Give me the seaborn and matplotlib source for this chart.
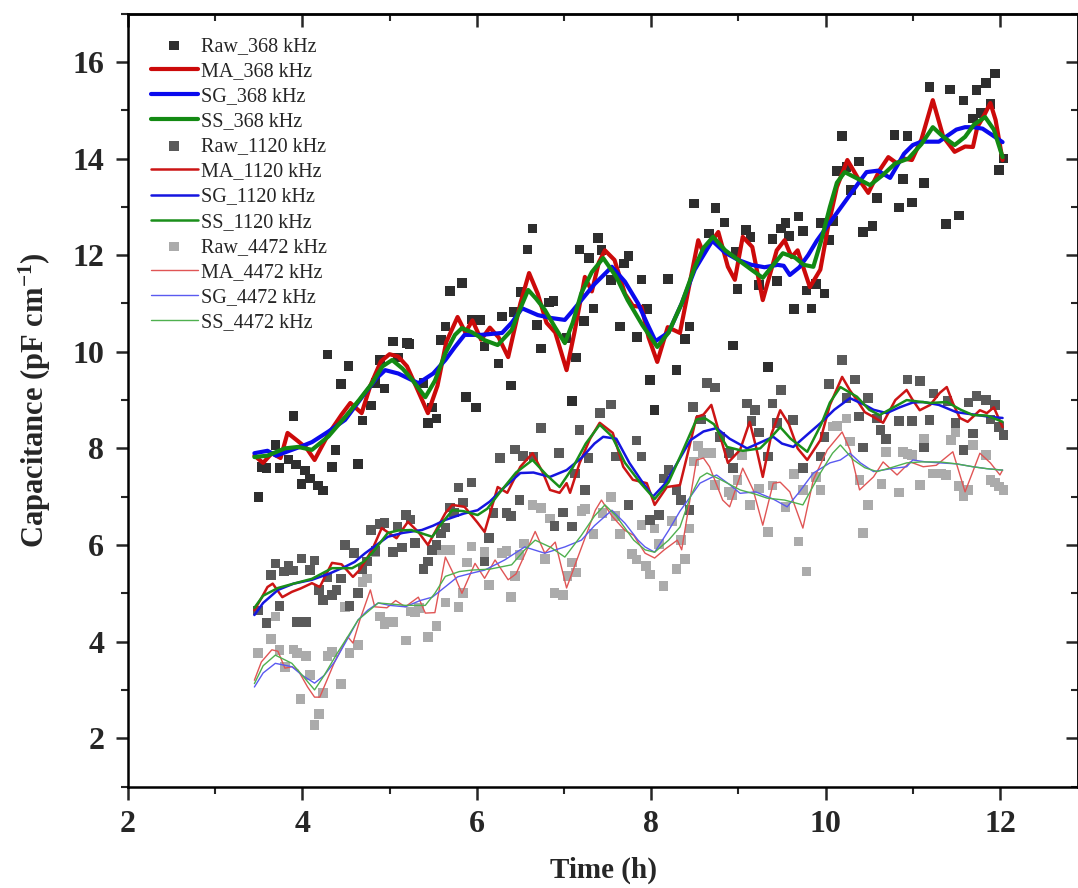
import numpy as np
import pandas as pd
import matplotlib
matplotlib.use("Agg")
import matplotlib.pyplot as plt
import seaborn as sns

# ---------------- data ----------------
# 368 kHz raw
raw368_t = [3.495, 3.53, 3.59, 3.69, 3.74, 3.84, 3.90, 3.93, 3.99, 4.03, 4.09, 4.18, 4.24, 4.29, 4.34, 4.38,
            4.44, 4.53, 4.64, 4.69, 4.79, 4.84, 4.89, 4.94, 5.04, 5.10, 5.20, 5.23, 5.39, 5.44, 5.49, 5.54,
            5.59, 5.64, 5.69, 5.83, 5.88, 5.94, 5.99, 6.04, 6.09, 6.25, 6.29, 6.39, 6.43, 6.50, 6.58, 6.64,
            6.69, 6.74, 6.83, 6.88, 7.03, 7.09, 7.14, 7.18, 7.23, 7.29, 7.34, 7.39, 7.43, 7.54, 7.64, 7.69,
            7.74, 7.84, 7.89, 7.95, 7.99, 8.04, 8.19, 8.29, 8.39, 8.44, 8.49, 8.66, 8.74, 8.84, 8.94, 8.97,
            8.99, 9.09, 9.14, 9.24, 9.34, 9.39, 9.44, 9.49, 9.54, 9.58, 9.64, 9.69, 9.74, 9.78, 9.84, 9.89,
            9.94, 9.99, 10.04, 10.09, 10.13, 10.19, 10.24, 10.29, 10.38, 10.43, 10.54, 10.59, 10.79, 10.84,
            10.89, 10.94, 10.99, 11.13, 11.19, 11.38, 11.43, 11.53, 11.58, 11.69, 11.73, 11.78, 11.84, 11.89,
            11.94, 11.99, 12.04]
raw368_y = [7.00, 7.62, 7.59, 8.07, 7.59, 7.77, 8.67, 7.67, 7.26, 7.54, 7.38, 7.23, 7.13, 9.94, 7.61, 7.97,
            9.33, 9.71, 7.68, 8.58, 8.89, 9.35, 9.83, 9.24, 10.21, 9.88, 10.18, 10.16, 9.35, 8.52, 8.85, 8.62,
            10.24, 10.52, 11.26, 11.43, 9.07, 10.67, 8.85, 10.66, 10.11, 9.76, 10.73, 9.30, 10.83, 11.24, 12.12, 12.55,
            10.55, 10.07, 11.02, 11.05, 10.28, 8.98, 9.88, 12.12, 10.64, 11.94, 10.90, 12.36, 12.11, 11.49, 10.52, 11.83,
            11.98, 10.31, 11.50, 10.88, 9.42, 8.80, 11.51, 9.62, 10.26, 10.52, 13.07, 12.45, 12.98, 12.68, 10.13, 12.07,
            11.30, 12.52, 12.38, 11.38, 9.68, 12.34, 11.47, 12.55, 12.66, 12.40, 10.88, 12.80, 12.50, 11.27, 10.90, 11.40,
            12.67, 11.21, 12.32, 12.71, 13.74, 14.47, 13.83, 13.35, 13.94, 12.48, 12.61, 13.19, 14.49, 12.99,
            13.58, 14.47, 13.09, 13.49, 15.48, 12.64, 15.43, 12.82, 15.20, 14.83, 15.42, 14.94, 15.57, 15.13,
            15.76, 13.76, 14.00]

# 1120 kHz raw
raw1120_t = [3.49, 3.59, 3.64, 3.69, 3.74, 3.79, 3.84, 3.90, 3.94, 3.99, 4.04, 4.09, 4.14, 4.19, 4.24, 4.29,
             4.34, 4.39, 4.44, 4.49, 4.54, 4.59, 4.64, 4.69, 4.74, 4.79, 4.84, 4.89, 4.94, 5.04, 5.09, 5.14,
             5.19, 5.24, 5.29, 5.39, 5.44, 5.49, 5.54, 5.59, 5.64, 5.69, 5.74, 5.79, 5.84, 5.94, 6.09, 6.14,
             6.19, 6.27, 6.34, 6.39, 6.44, 6.49, 6.53, 6.65, 6.74, 6.89, 6.94, 6.99, 7.09, 7.13, 7.18, 7.24,
             7.28, 7.41, 7.54, 7.59, 7.74, 7.83, 7.89, 7.99, 8.09, 8.14, 8.20, 8.29, 8.34, 8.44, 8.48, 8.57,
             8.64, 8.73, 8.79, 8.89, 8.94, 9.10, 9.15, 9.19, 9.24, 9.34, 9.39, 9.44, 9.49, 9.63, 9.74, 9.94,
             9.99, 10.04, 10.19, 10.24, 10.34, 10.38, 10.43, 10.49, 10.59, 10.63, 10.69, 10.84, 10.94, 10.99,
             11.08, 11.13, 11.19, 11.24, 11.40, 11.49, 11.58, 11.64, 11.69, 11.73, 11.84, 11.89, 11.94, 11.99, 12.04]
raw1120_y = [4.64, 4.39, 5.38, 5.62, 4.74, 5.45, 5.57, 5.47, 4.40, 5.72, 4.40, 5.48, 5.68, 5.07, 4.86, 5.33,
             4.97, 5.07, 5.31, 6.00, 4.74, 5.83, 5.01, 5.50, 5.66, 6.31, 5.88, 6.43, 6.45, 5.86, 6.38, 5.95,
             6.62, 6.53, 6.04, 5.50, 5.66, 5.90, 6.00, 6.24, 6.36, 6.78, 6.67, 7.19, 6.88, 7.29, 5.66, 6.14,
             6.66, 7.80, 6.66, 6.60, 7.98, 6.93, 7.84, 7.83, 8.42, 6.39, 7.90, 6.67, 6.38, 7.48, 8.38, 7.14,
             7.80, 8.73, 8.91, 7.83, 6.83, 8.16, 7.83, 6.52, 6.62, 7.38, 7.55, 7.14, 6.93, 6.72, 8.86, 8.60,
             9.35, 9.26, 8.23, 7.90, 7.59, 8.93, 8.57, 8.80, 8.33, 7.83, 8.93, 8.52, 9.21, 8.59, 7.59, 7.83,
             8.24, 9.33, 9.83, 9.04, 9.43, 8.66, 8.02, 9.04, 8.62, 8.38, 8.19, 8.57, 9.43, 8.57,
             9.40, 8.02, 8.59, 9.14, 8.98, 8.52, 7.97, 8.95, 8.31, 9.08, 9.00, 8.60, 8.90, 8.44, 8.28]

# 4472 kHz raw
raw4472_t = [3.49, 3.64, 3.69, 3.74, 3.80, 3.90, 3.94, 3.98, 4.04, 4.09, 4.14, 4.19, 4.24, 4.29, 4.34, 4.44,
             4.49, 4.54, 4.64, 4.69, 4.74, 4.84, 4.89, 4.94, 4.99, 5.04, 5.19, 5.24, 5.29, 5.34, 5.44, 5.54,
             5.59, 5.64, 5.69, 5.79, 5.84, 5.89, 5.94, 6.09, 6.14, 6.29, 6.34, 6.39, 6.44, 6.49, 6.54, 6.64,
             6.74, 6.78, 6.84, 6.89, 6.99, 7.04, 7.09, 7.14, 7.20, 7.24, 7.34, 7.44, 7.54, 7.59, 7.64, 7.78,
             7.83, 7.89, 7.94, 7.99, 8.04, 8.09, 8.14, 8.24, 8.29, 8.34, 8.39, 8.44, 8.49, 8.54, 8.59, 8.69,
             8.73, 8.89, 8.93, 8.99, 9.04, 9.13, 9.24, 9.34, 9.39, 9.54, 9.64, 9.69, 9.74, 9.78, 9.89, 9.94,
             10.08, 10.13, 10.24, 10.28, 10.39, 10.43, 10.49, 10.64, 10.69, 10.84, 10.89, 10.94, 10.99, 11.08,
             11.13, 11.23, 11.33, 11.38, 11.44, 11.49, 11.53, 11.58, 11.64, 11.69, 11.84, 11.89, 11.94, 11.99, 12.04]
raw4472_y = [3.76, 4.05, 4.52, 3.83, 3.48, 3.84, 3.77, 2.81, 3.70, 3.31, 2.27, 2.50, 2.93, 3.70, 3.79, 3.12,
             4.72, 3.77, 3.93, 5.24, 5.31, 5.86, 4.52, 4.37, 4.41, 4.41, 4.02, 4.62, 4.60, 4.69, 4.10, 4.32,
             5.90, 4.81, 5.90, 4.72, 5.00, 5.64, 5.97, 5.86, 5.17, 5.83, 5.88, 4.92, 5.36, 5.79, 6.03, 6.83,
             6.76, 5.71, 6.55, 5.00, 4.96, 5.36, 5.64, 5.43, 6.71, 6.74, 6.23, 6.66, 7.00, 6.60, 6.23, 5.81,
             5.70, 6.41, 5.56, 5.39, 6.34, 6.02, 5.15, 6.50, 5.50, 6.10, 5.71, 6.34, 7.73, 8.05, 7.91, 7.90,
             7.24, 7.10, 7.03, 7.35, 7.86, 6.83, 7.17, 6.27, 7.23, 6.79, 7.47, 6.07, 7.14, 5.45, 7.41, 7.14,
             8.45, 8.46, 8.62, 8.14, 7.35, 6.25, 6.83, 7.26, 7.93, 7.09, 7.93, 7.88, 7.86, 7.24,
             8.19, 7.48, 7.48, 7.45, 8.17, 8.33, 7.22, 7.01, 7.14, 8.07, 7.86, 7.35, 7.29, 7.21, 7.14]

# 368 kHz smoothed curves
ma368_t = [3.45, 3.55, 3.65, 3.75, 3.83, 3.95, 4.05, 4.14, 4.30, 4.45, 4.55, 4.68, 4.78, 4.90, 5.00, 5.10,
           5.20, 5.30, 5.44, 5.55, 5.65, 5.78, 5.87, 5.95, 6.05, 6.15, 6.25, 6.36, 6.50, 6.60, 6.70, 6.80,
           6.90, 7.03, 7.12, 7.24, 7.32, 7.40, 7.47, 7.58, 7.70, 7.79, 7.89, 7.97, 8.07, 8.19, 8.33, 8.44,
           8.54, 8.60, 8.77, 8.88, 8.96, 9.05, 9.16, 9.28, 9.44, 9.53, 9.61, 9.68, 9.82, 9.94, 10.03, 10.13,
           10.25, 10.37, 10.49, 10.62, 10.72, 10.82, 10.90, 10.99, 11.10, 11.23, 11.35, 11.48, 11.60, 11.69,
           11.74, 11.82, 11.89, 11.95, 12.03]
ma368_y = [7.85, 7.70, 7.90, 7.80, 8.32, 8.15, 8.00, 7.76, 8.30, 8.70, 8.94, 8.73, 9.30, 9.80, 9.95, 9.90,
           9.70, 9.30, 8.73, 9.30, 10.20, 10.72, 10.40, 10.65, 10.25, 10.50, 10.30, 9.89, 11.00, 11.63, 11.20, 10.60,
           10.40, 9.62, 10.40, 11.55, 11.25, 11.85, 12.10, 11.90, 11.20, 10.95, 10.93, 10.30, 9.79, 10.51, 10.39, 11.40,
           12.31, 12.04, 12.48, 11.76, 11.49, 12.38, 12.17, 11.07, 12.10, 12.31, 11.96, 12.10, 11.34, 11.70, 12.60, 13.41,
           13.97, 13.60, 13.29, 13.76, 14.03, 13.90, 14.00, 13.97, 14.40, 15.21, 14.45, 14.14, 14.25, 14.24,
           14.65, 14.90, 15.15, 14.80, 13.97]

sg368_t = [3.45, 3.60, 3.70, 3.85, 4.00, 4.11, 4.30, 4.49, 4.70, 4.85, 4.95, 5.10, 5.33, 5.50, 5.64, 5.75,
           5.86, 6.05, 6.29, 6.40, 6.52, 6.70, 6.85, 7.01, 7.10, 7.20, 7.35, 7.55, 7.70, 7.85, 7.95, 8.05,
           8.20, 8.35, 8.50, 8.70, 8.85, 9.00, 9.15, 9.30, 9.45, 9.52, 9.59, 9.70, 9.80, 9.90, 10.00, 10.10,
           10.20, 10.30, 10.40, 10.47, 10.60, 10.74, 10.82, 10.90, 11.00, 11.10, 11.30, 11.50, 11.60, 11.70,
           11.80, 11.90, 12.03]
sg368_y = [7.90, 7.95, 7.85, 7.95, 8.05, 8.13, 8.35, 8.59, 9.10, 9.45, 9.62, 9.55, 9.35, 9.55, 9.83, 10.10,
           10.35, 10.35, 10.39, 10.60, 10.90, 10.76, 10.70, 10.66, 10.85, 11.07, 11.40, 11.76, 11.45, 11.00, 10.60, 10.22,
           10.40, 11.00, 11.70, 12.30, 12.05, 11.90, 11.80, 11.75, 11.80, 11.78, 11.59, 11.75, 12.00, 12.30, 12.55, 12.80,
           13.05, 13.30, 13.55, 13.72, 13.75, 13.60, 13.85, 14.10, 14.28, 14.35, 14.35, 14.60, 14.65, 14.65,
           14.62, 14.50, 14.34]

ss368_t = [3.45, 3.60, 3.80, 3.95, 4.11, 4.30, 4.49, 4.65, 4.80, 4.92, 5.03, 5.15, 5.26, 5.41, 5.52, 5.64,
           5.75, 5.83, 5.95, 6.09, 6.24, 6.40, 6.50, 6.59, 6.68, 6.78, 6.90, 7.01, 7.10, 7.20, 7.32, 7.45,
           7.60, 7.73, 7.90, 8.07, 8.20, 8.35, 8.50, 8.60, 8.71, 8.85, 9.00, 9.15, 9.28, 9.40, 9.51, 9.65,
           9.75, 9.86, 9.95, 10.05, 10.13, 10.22, 10.35, 10.51, 10.65, 10.80, 10.95, 11.10, 11.23, 11.35,
           11.48, 11.60, 11.70, 11.83, 11.93, 12.03]
ss368_y = [7.82, 7.85, 8.00, 8.03, 7.97, 8.25, 8.65, 9.00, 9.35, 9.70, 9.83, 9.65, 9.42, 9.06, 9.40, 9.97,
           10.35, 10.49, 10.40, 10.24, 10.14, 10.45, 10.90, 11.28, 11.10, 10.87, 10.50, 10.18, 10.60, 11.22, 11.65, 11.94,
           11.55, 11.07, 10.55, 10.10, 10.40, 11.00, 11.75, 12.15, 12.38, 12.10, 11.90, 11.70, 11.53, 11.80, 12.04, 11.95,
           11.80, 11.76, 12.30, 13.00, 13.50, 13.72, 13.60, 13.45, 13.65, 13.90, 14.00, 14.30, 14.65, 14.45,
           14.28, 14.45, 14.70, 14.86, 14.60, 14.03]

# 1120 kHz smoothed curves
ma1120_t = [3.45, 3.53, 3.60, 3.66, 3.77, 3.88, 3.98, 4.11, 4.20, 4.34, 4.45, 4.58, 4.66, 4.80, 4.91, 5.08,
            5.21, 5.33, 5.44, 5.64, 5.72, 5.86, 6.01, 6.09, 6.24, 6.35, 6.50, 6.64, 6.76, 6.84, 6.95, 7.03,
            7.07, 7.18, 7.30, 7.41, 7.56, 7.68, 7.79, 7.95, 8.04, 8.18, 8.33, 8.42, 8.52, 8.60, 8.69, 8.80,
            8.88, 9.02, 9.13, 9.20, 9.28, 9.38, 9.48, 9.58, 9.68, 9.79, 9.94, 10.05, 10.19, 10.28, 10.36, 10.45,
            10.55, 10.66, 10.80, 10.93, 11.00, 11.08, 11.20, 11.31, 11.39, 11.46, 11.54, 11.63, 11.77, 11.85,
            11.93, 12.03]
ma1120_y = [4.65, 4.90, 5.13, 5.20, 4.92, 5.03, 5.10, 5.21, 5.13, 5.63, 5.60, 5.34, 5.49, 5.90, 6.35, 6.14,
            6.48, 6.27, 6.00, 6.66, 6.83, 6.79, 6.46, 6.27, 7.20, 7.08, 7.62, 7.90, 7.49, 7.14, 7.08, 7.28,
            7.08, 7.70, 8.20, 8.53, 8.32, 7.62, 7.35, 7.28, 6.83, 7.20, 7.24, 7.90, 8.65, 8.70, 8.90, 8.20,
            7.70, 7.97, 8.55, 8.05, 7.41, 8.30, 8.79, 8.50, 8.00, 7.76, 8.17, 8.90, 9.48, 9.20, 9.00, 8.75,
            8.65, 8.53, 9.00, 9.21, 9.00, 8.79, 8.90, 9.15, 9.27, 8.94, 8.63, 8.55, 8.79, 8.73,
            8.85, 8.44]

sg1120_t = [3.45, 3.55, 3.72, 3.90, 4.11, 4.30, 4.49, 4.60, 4.72, 4.85, 4.98, 5.15, 5.37, 5.50, 5.64, 5.85,
            6.01, 6.15, 6.32, 6.50, 6.65, 6.84, 7.03, 7.20, 7.35, 7.45, 7.60, 7.75, 7.90, 8.02, 8.15, 8.30,
            8.45, 8.60, 8.75, 8.90, 9.10, 9.25, 9.40, 9.50, 9.63, 9.80, 9.94, 10.10, 10.28, 10.45, 10.55, 10.70,
            10.85, 11.00, 11.12, 11.30, 11.50, 11.70, 11.90, 12.03]
sg1120_y = [4.55, 4.80, 5.07, 5.20, 5.28, 5.40, 5.55, 5.65, 5.83, 6.00, 6.17, 6.25, 6.31, 6.40, 6.52, 6.65,
            6.72, 6.90, 7.20, 7.49, 7.50, 7.41, 7.55, 7.80, 8.10, 8.24, 8.20, 7.70, 7.30, 7.00, 7.25, 7.70,
            8.17, 8.35, 8.42, 8.20, 8.00, 8.12, 8.24, 8.10, 8.03, 8.30, 8.52, 8.80, 9.04, 8.90, 8.80, 8.73,
            8.85, 8.95, 8.96, 8.90, 8.75, 8.70, 8.65, 8.63]

ss1120_t = [3.45, 3.55, 3.72, 3.90, 4.11, 4.34, 4.57, 4.70, 4.80, 4.98, 5.10, 5.25, 5.49, 5.60, 5.72, 5.85,
            6.01, 6.12, 6.27, 6.45, 6.64, 6.80, 6.95, 7.10, 7.25, 7.41, 7.55, 7.70, 7.87, 8.04, 8.20, 8.35,
            8.52, 8.62, 8.72, 8.87, 9.05, 9.25, 9.36, 9.48, 9.60, 9.79, 9.95, 10.05, 10.17, 10.36, 10.50, 10.62,
            10.78, 10.93, 11.20, 11.39, 11.55, 11.69, 11.85, 12.03]
ss1120_y = [4.70, 4.95, 5.11, 5.20, 5.30, 5.52, 5.52, 5.65, 5.83, 6.25, 6.30, 6.31, 6.17, 6.45, 6.72, 6.70,
            6.62, 6.75, 7.10, 7.50, 7.76, 7.45, 7.20, 7.60, 8.10, 8.49, 8.25, 7.70, 7.30, 6.95, 7.30, 7.90,
            8.60, 8.62, 8.50, 8.03, 7.95, 8.00, 8.20, 8.44, 8.20, 7.93, 8.50, 8.95, 9.27, 9.07, 8.80, 8.69,
            8.85, 9.00, 8.94, 8.96, 8.80, 8.69, 8.68, 8.55]

# 4472 kHz smoothed curves
ma4472_t = [3.45, 3.53, 3.65, 3.72, 3.80, 3.88, 3.95, 4.06, 4.14, 4.20, 4.37, 4.52, 4.58, 4.66, 4.78, 4.83,
            4.97, 5.07, 5.18, 5.33, 5.41, 5.52, 5.64, 5.75, 5.83, 5.98, 6.09, 6.21, 6.36, 6.45, 6.67, 6.78,
            6.90, 7.03, 7.16, 7.36, 7.43, 7.55, 7.70, 7.80, 7.93, 8.04, 8.15, 8.30, 8.35, 8.52, 8.60, 8.67,
            8.82, 8.90, 9.05, 9.17, 9.28, 9.40, 9.48, 9.59, 9.74, 9.86, 10.02, 10.19, 10.28, 10.39, 10.55, 10.66,
            10.82, 10.97, 11.12, 11.27, 11.46, 11.60, 11.77, 11.89, 12.00, 12.03]
ma4472_y = [3.20, 3.58, 3.83, 3.80, 3.45, 3.48, 3.41, 3.06, 2.85, 2.85, 3.58, 4.10, 3.97, 4.45, 5.07, 4.72,
            4.70, 4.85, 4.72, 4.92, 4.59, 4.60, 5.75, 5.34, 5.00, 5.62, 5.31, 5.69, 5.28, 5.40, 6.28, 5.83,
            6.06, 5.11, 5.75, 6.72, 6.93, 6.60, 6.30, 6.20, 5.83, 5.73, 5.90, 6.10, 5.90, 7.76, 7.80, 7.62,
            6.93, 6.79, 7.59, 7.14, 6.41, 7.28, 7.30, 7.10, 6.35, 7.35, 7.97, 8.34, 7.97, 7.14, 7.41, 7.72,
            7.45, 7.72, 7.62, 7.65, 7.93, 7.10, 7.90, 7.70, 7.45, 7.55]

sg4472_t = [3.45, 3.55, 3.69, 3.88, 4.00, 4.14, 4.25, 4.37, 4.50, 4.64, 4.75, 4.87, 5.00, 5.18, 5.35, 5.49,
            5.65, 5.78, 5.95, 6.09, 6.32, 6.55, 6.78, 7.01, 7.20, 7.35, 7.55, 7.70, 7.85, 7.93, 8.04, 8.20,
            8.33, 8.45, 8.56, 8.75, 8.90, 9.02, 9.20, 9.40, 9.56, 9.70, 9.86, 10.05, 10.17, 10.28, 10.40, 10.55,
            10.75, 10.93, 11.00, 11.15, 11.31, 11.50, 11.69, 11.85, 12.03]
sg4472_y = [3.06, 3.35, 3.55, 3.48, 3.30, 3.14, 3.30, 3.58, 4.00, 4.45, 4.65, 4.80, 4.75, 4.72, 4.85, 4.92,
            5.15, 5.34, 5.42, 5.48, 5.69, 5.96, 5.83, 5.96, 6.10, 6.40, 6.72, 6.45, 6.10, 5.96, 5.85, 6.30,
            6.70, 7.00, 7.28, 7.45, 7.25, 7.07, 7.10, 6.95, 6.79, 7.10, 7.49, 7.70, 7.76, 7.90, 7.70, 7.52,
            7.58, 7.62, 7.76, 7.72, 7.70, 7.68, 7.62, 7.58, 7.55]

ss4472_t = [3.45, 3.55, 3.69, 3.88, 4.00, 4.14, 4.25, 4.40, 4.52, 4.64, 4.87, 5.00, 5.18, 5.41, 5.52, 5.64,
            5.80, 5.94, 6.15, 6.40, 6.55, 6.67, 6.85, 7.01, 7.20, 7.35, 7.47, 7.60, 7.80, 7.93, 8.04, 8.20,
            8.33, 8.45, 8.56, 8.64, 8.80, 9.02, 9.20, 9.33, 9.53, 9.74, 9.94, 10.08, 10.17, 10.32, 10.45, 10.59,
            10.75, 10.93, 11.10, 11.31, 11.50, 11.69, 11.85, 12.03]
ss4472_y = [3.13, 3.50, 3.72, 3.55, 3.30, 3.00, 3.30, 3.76, 4.10, 4.45, 4.80, 4.78, 4.75, 4.75, 5.00, 5.35,
            5.45, 5.48, 5.50, 5.59, 5.90, 6.10, 5.95, 5.75, 6.20, 6.60, 6.83, 6.60, 6.10, 5.90, 5.85, 6.10,
            6.37, 7.00, 7.40, 7.49, 7.35, 7.14, 7.05, 6.97, 6.93, 6.83, 7.49, 7.90, 8.07, 7.76, 7.60, 7.52,
            7.60, 7.70, 7.72, 7.72, 7.68, 7.62, 7.58, 7.55]

freqs = ["368", "1120", "4472"]
x_ticks = [2, 4, 6, 8, 10, 12]
y_ticks = [2, 4, 6, 8, 10, 12, 14, 16]

# ---------------- style ----------------
sns.set_style("ticks")
plt.rcParams["font.family"] = ["Liberation Serif", "DejaVu Serif"]
plt.rcParams["mathtext.fontset"] = "custom"
plt.rcParams["mathtext.rm"] = "Liberation Serif:bold"
plt.rcParams["mathtext.default"] = "rm"

fig = plt.figure(figsize=(10.78, 8.88), dpi=100)
ax = fig.add_axes([0.1187, 0.1143, 0.8817, 0.8703])

raw_data = {"368": (raw368_t, raw368_y), "1120": (raw1120_t, raw1120_y), "4472": (raw4472_t, raw4472_y)}
ma_data = {"368": (ma368_t, ma368_y), "1120": (ma1120_t, ma1120_y), "4472": (ma4472_t, ma4472_y)}
sg_data = {"368": (sg368_t, sg368_y), "1120": (sg1120_t, sg1120_y), "4472": (sg4472_t, sg4472_y)}
ss_data = {"368": (ss368_t, ss368_y), "1120": (ss1120_t, ss1120_y), "4472": (ss4472_t, ss4472_y)}

raw_color = {"368": "#2e2e2e", "1120": "#5a5a5a", "4472": "#ababab"}
ma_color = {"368": "#cc0a0a", "1120": "#cc1515", "4472": "#e05555"}
sg_color = {"368": "#0a0aee", "1120": "#1515e0", "4472": "#5a5af0"}
ss_color = {"368": "#138a13", "1120": "#1a8f1a", "4472": "#4fb04f"}
lw = {"368": 3.0, "1120": 1.8, "4472": 1.0}

# raw points first (behind lines)
for f in ["4472", "1120", "368"]:
    t, y = raw_data[f]
    sns.scatterplot(x=t, y=y, marker="s", s=48, color=raw_color[f], edgecolor="none",
                    linewidth=0, ax=ax, label=f"Raw_{f} kHz", zorder=2)

for f in ["4472", "1120", "368"]:
    for name, data, col in [("MA", ma_data, ma_color), ("SG", sg_data, sg_color), ("SS", ss_data, ss_color)]:
        t, y = data[f]
        sns.lineplot(x=t, y=y, sort=False, estimator=None, color=col[f], linewidth=lw[f],
                     ax=ax, label=f"{name}_{f} kHz", zorder=3)

ax.set_xlim(2, 12.9)
ax.set_ylim(1, 17)
ax.set_xticks(x_ticks)
ax.set_yticks(y_ticks)
ax.set_xticks(np.arange(3, 13, 2), minor=True)
ax.set_yticks(np.arange(1, 18, 2), minor=True)

for sp in ax.spines.values():
    sp.set_linewidth(1.8)
    sp.set_color("black")
ax.tick_params(which="major", direction="out", length=9, width=1.8, labelsize=23, pad=8)
ax.tick_params(which="minor", direction="out", length=5, width=1.5)
for lab in ax.get_xticklabels() + ax.get_yticklabels():
    lab.set_fontweight("bold")

# mirrored inward ticks on top and right
secx = ax.secondary_xaxis("top")
secx.set_xticks(x_ticks)
secx.set_xticks(np.arange(3, 13, 2), minor=True)
secx.tick_params(which="major", direction="in", length=9, width=1.8, labeltop=False)
secx.tick_params(which="minor", direction="in", length=5, width=1.5)
secx.spines["top"].set_linewidth(1.8)
secy = ax.secondary_yaxis("right")
secy.set_yticks(y_ticks)
secy.set_yticks(np.arange(1, 18, 2), minor=True)
secy.tick_params(which="major", direction="in", length=9, width=1.8, labelright=False)
secy.tick_params(which="minor", direction="in", length=5, width=1.5)
secy.spines["right"].set_linewidth(1.8)

ax.set_xlabel("Time (h)", fontsize=21, fontweight="bold", labelpad=13)
ax.set_ylabel(r"Capacitance (pF cm$^{-1}$)", fontsize=22, fontweight="bold", labelpad=14)

# legend in original order
handles, labels = ax.get_legend_handles_labels()
hmap = dict(zip(labels, handles))
order = []
for f in freqs:
    order += [f"Raw_{f} kHz", f"MA_{f} kHz", f"SG_{f} kHz", f"SS_{f} kHz"]
leg = ax.legend([hmap[k] for k in order], order, loc="upper left", bbox_to_anchor=(0.009, 0.9885),
                frameon=False, fontsize=14.5, handlelength=2.35, handletextpad=0.15,
                labelspacing=0.3, borderpad=0.2, markerscale=1.0)

fig.savefig("out.png", dpi=100)
